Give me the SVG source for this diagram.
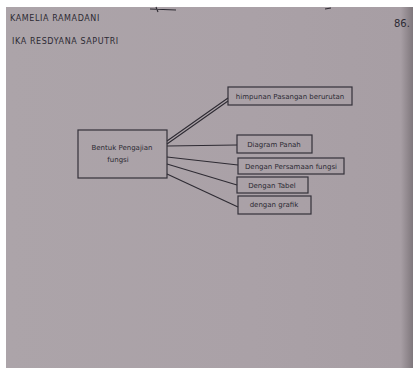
<svg xmlns="http://www.w3.org/2000/svg" width="413" height="368" viewBox="0 0 413 368">
  <defs>
    <linearGradient id="paper" x1="0" y1="0" x2="1" y2="0">
      <stop offset="0" stop-color="#aca4a9"/>
      <stop offset="0.6" stop-color="#aaa1a7"/>
      <stop offset="0.97" stop-color="#a79ea4"/>
      <stop offset="1" stop-color="#7f777c"/>
    </linearGradient>
    <style>
      .ink { fill: none; stroke: #2e2b33; stroke-width: 1.1; }
      .box { fill: none; stroke: #34313a; stroke-width: 1.2; }
      .hand { font-family: "DejaVu Sans", sans-serif; fill: #2c2a33; }
      .lbl { font-family: "DejaVu Sans", sans-serif; font-size: 7px; fill: #2c2a33; }
    </style>
  </defs>

  <!-- page -->
  <rect x="0" y="0" width="413" height="368" fill="#ffffff"/>
  <rect x="6" y="7" width="407" height="361" fill="url(#paper)"/>

  <!-- strokes showing through from the sheet above -->
  <path class="ink" d="M150 9 L176 10 M156 7 L158 12 M325 9 L331 8"/>

  <!-- names and page number -->
  <text class="hand" x="10" y="21" font-size="8" letter-spacing="0.6">KAMELIA RAMADANI</text>
  <text class="hand" x="12" y="44" font-size="8" letter-spacing="0.6">IKA RESDYANA SAPUTRI</text>
  <text class="hand" x="394" y="27" font-size="10">86.</text>

  <!-- connectors -->
  <g id="connectors">
    <path class="ink" d="M167 141 L228 98 M167 144 L228 101"/>
    <path class="ink" d="M167 146 L237 145"/>
    <path class="ink" d="M167 157 L238 165"/>
    <path class="ink" d="M167 164 L237 185"/>
    <path class="ink" d="M167 174 L238 207"/>
  </g>

  <!-- central node -->
  <g id="bentuk">
    <rect class="box" x="78" y="130" width="89" height="48"/>
    <text class="lbl" x="122" y="150" text-anchor="middle">Bentuk Pengajian</text>
    <text class="lbl" x="118" y="162" text-anchor="middle">fungsi</text>
  </g>

  <g id="himpunan">
    <rect class="box" x="228" y="87" width="124" height="18"/>
    <text class="lbl" x="290" y="99" text-anchor="middle">himpunan Pasangan berurutan</text>
  </g>

  <g id="diagram">
    <rect class="box" x="237" y="135" width="75" height="18"/>
    <text class="lbl" x="274" y="147" text-anchor="middle">Diagram Panah</text>
  </g>

  <g id="persamaan">
    <rect class="box" x="238" y="158" width="106" height="16"/>
    <text class="lbl" x="291" y="169" text-anchor="middle">Dengan Persamaan fungsi</text>
  </g>

  <g id="tabel">
    <rect class="box" x="237" y="177" width="71" height="16"/>
    <text class="lbl" x="272" y="188" text-anchor="middle">Dengan Tabel</text>
  </g>

  <g id="grafik">
    <rect class="box" x="238" y="196" width="73" height="18"/>
    <text class="lbl" x="274" y="207" text-anchor="middle">dengan grafik</text>
  </g>
</svg>
